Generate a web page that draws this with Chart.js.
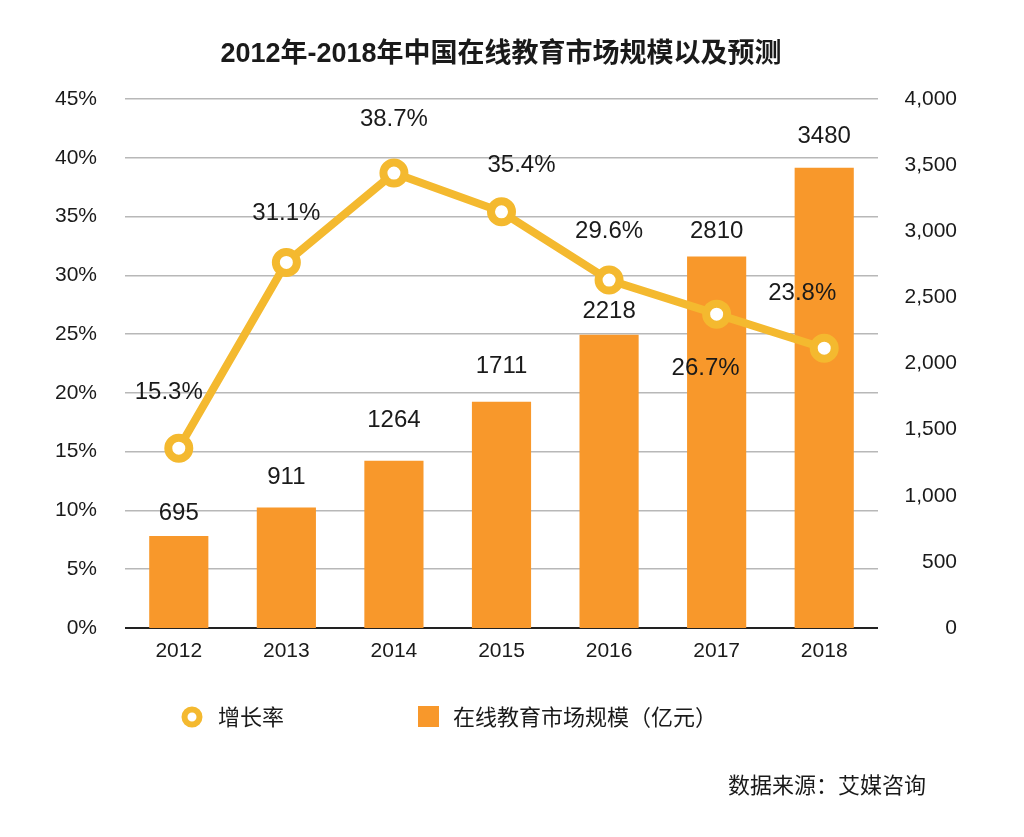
<!DOCTYPE html>
<html>
<head>
<meta charset="utf-8">
<script src="https://cdn.jsdelivr.net/npm/chart.js@4"></script>
<style>
  html, body { margin: 0; padding: 0; background: #fff; }
  #wrap { width: 1024px; height: 837px; }
</style>
</head>
<body>
<div id="wrap"><canvas id="chart" width="1024" height="837"></canvas></div>
<script>
// chart data
var years = ['2012', '2013', '2014', '2015', '2016', '2017', '2018'];
var marketSize = [695, 911, 1264, 1711, 2218, 2810, 3480];
var growthRate = [15.3, 31.1, 38.7, 35.4, 29.6, 26.7, 23.8];
var seriesNames = ['增长率', '在线教育市场规模（亿元）'];
var titleText = '2012年-2018年中国在线教育市场规模以及预测';
var sourceText = '数据来源：艾媒咨询';

// colors
var barColor = '#F8982B';
var lineColor = '#F4B92F';
var gridColor = '#b8b8b8';
var textColor = '#1a1a1a';

var latin = '"Liberation Sans", Arial, "Noto Sans CJK SC", sans-serif';
var cjk = '"Noto Sans CJK SC", "Liberation Sans", sans-serif';

// label nudges, as in the original layout
var rateLabelShift = [[-10, -56], [0, -49], [0, -54], [20, -46], [0, -49], [-11, 54], [-22, -55]];
var sizeLabelLift = [23, 30, 40, 35, 23, 25, 31];

var labelPlugin = {
  id: 'labels',
  afterDatasetsDraw: function (chart) {
    var ctx = chart.ctx;
    ctx.save();
    ctx.fillStyle = textColor;
    ctx.textAlign = 'center';
    ctx.textBaseline = 'middle';
    ctx.font = '24px ' + latin;
    var barMeta = chart.getDatasetMeta(1);
    barMeta.data.forEach(function (bar, i) {
      ctx.fillText(String(marketSize[i]), bar.x, bar.y - sizeLabelLift[i]);
    });
    var lineMeta = chart.getDatasetMeta(0);
    lineMeta.data.forEach(function (pt, i) {
      var s = rateLabelShift[i];
      ctx.fillText(growthRate[i].toFixed(1) + '%', pt.x + s[0], pt.y + s[1]);
    });
    ctx.restore();
  },
  afterDraw: function (chart) {
    var ctx = chart.ctx;
    ctx.save();
    ctx.fillStyle = textColor;
    ctx.textBaseline = 'middle';
    // title
    ctx.textAlign = 'center';
    ctx.font = 'bold 27px ' + latin;
    ctx.fillText(titleText, 501, 55);
    // legend
    ctx.textAlign = 'left';
    ctx.beginPath();
    ctx.arc(192, 717, 7.5, 0, Math.PI * 2);
    ctx.fillStyle = '#fff';
    ctx.fill();
    ctx.lineWidth = 6;
    ctx.strokeStyle = lineColor;
    ctx.stroke();
    ctx.fillStyle = textColor;
    ctx.font = '22px ' + cjk;
    ctx.fillText(seriesNames[0], 218, 717);
    ctx.fillStyle = barColor;
    ctx.fillRect(418, 706, 21, 21);
    ctx.fillStyle = textColor;
    ctx.fillText(seriesNames[1], 453, 717);
    // source
    ctx.fillText(sourceText, 728, 785);
    ctx.restore();
  }
};

new Chart(document.getElementById('chart'), {
  type: 'bar',
  data: {
    labels: years,
    datasets: [
      {
        type: 'line',
        label: seriesNames[0],
        data: growthRate,
        yAxisID: 'yRate',
        borderColor: lineColor,
        borderWidth: 8,
        pointRadius: 10.5,
        pointBorderWidth: 8,
        pointBackgroundColor: '#ffffff',
        pointBorderColor: lineColor,
        tension: 0,
        order: 0
      },
      {
        type: 'bar',
        label: seriesNames[1],
        data: marketSize,
        yAxisID: 'ySize',
        backgroundColor: barColor,
        borderWidth: 0,
        categoryPercentage: 1,
        barPercentage: 0.55,
        order: 1
      }
    ]
  },
  options: {
    responsive: false,
    animation: false,
    layout: { padding: { top: 99, left: 0, right: 67, bottom: 169 } },
    plugins: {
      legend: { display: false },
      tooltip: { enabled: false }
    },
    scales: {
      x: {
        offset: true,
        grid: { display: false, drawTicks: false },
        border: { display: false },
        ticks: { color: textColor, font: { size: 21, family: latin }, padding: 11 },
        afterFit: function (axis) { axis.height = 40; }
      },
      yRate: {
        position: 'left',
        min: 0,
        max: 45,
        ticks: {
          stepSize: 5,
          padding: 28,
          color: textColor,
          font: { size: 21, family: latin },
          callback: function (v) { return v + '%'; }
        },
        border: { display: false },
        grid: {
          drawTicks: false,
          lineWidth: function (c) { return c.tick && c.tick.value === 0 ? 2 : 1.5; },
          color: function (c) { return c.tick && c.tick.value === 0 ? '#222' : gridColor; }
        },
        afterFit: function (axis) { axis.width = 125; }
      },
      ySize: {
        position: 'right',
        min: 0,
        max: 4000,
        ticks: {
          stepSize: 500,
          padding: 26,
          crossAlign: 'far',
          color: textColor,
          font: { size: 21, family: latin },
          callback: function (v) { return v.toLocaleString('en-US'); }
        },
        border: { display: false },
        grid: { display: false, drawTicks: false },
        afterFit: function (axis) { axis.width = 79; }
      }
    }
  },
  plugins: [labelPlugin]
});
</script>
</body>
</html>
